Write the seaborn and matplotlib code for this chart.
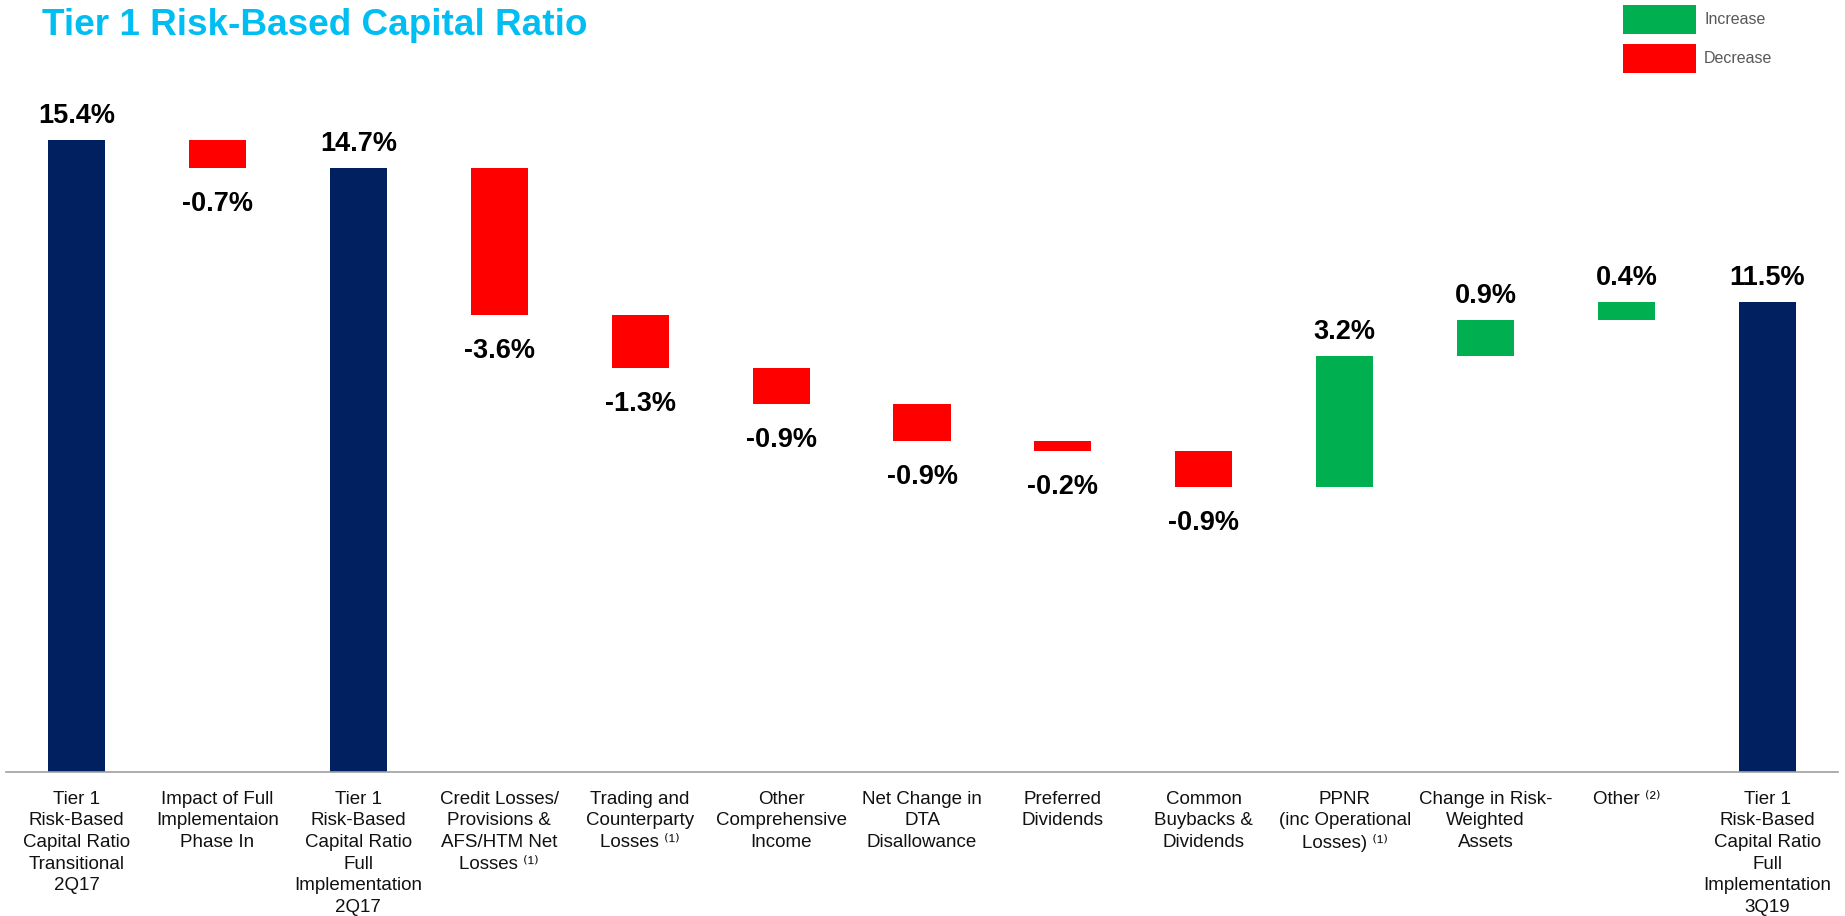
import matplotlib
matplotlib.use("Agg")
import matplotlib.pyplot as plt
import seaborn as sns
import numpy as np
import pandas as pd
from matplotlib.patches import Rectangle

# ---------------- data ----------------
categories = [
    "Tier 1\nRisk-Based\nCapital Ratio\nTransitional\n2Q17",
    "Impact of Full\nImplementaion\nPhase In",
    "Tier 1\nRisk-Based\nCapital Ratio\nFull\nImplementation\n2Q17",
    "Credit Losses/\nProvisions &\nAFS/HTM Net\nLosses \u207d\u00b9\u207e",
    "Trading and\nCounterparty\nLosses \u207d\u00b9\u207e",
    "Other\nComprehensive\nIncome",
    "Net Change in\nDTA\nDisallowance",
    "Preferred\nDividends",
    "Common\nBuybacks &\nDividends",
    "PPNR\n(inc Operational\nLosses) \u207d\u00b9\u207e",
    "Change in Risk-\nWeighted\nAssets",
    "Other \u207d\u00b2\u207e",
    "Tier 1\nRisk-Based\nCapital Ratio\nFull\nImplementation\n3Q19",
]
kinds = ["total", "decrease", "total", "decrease", "decrease", "decrease",
         "decrease", "decrease", "decrease", "increase", "increase",
         "increase", "total"]
values = [15.4, -0.70, 14.7, -3.57, -1.28, -0.89, -0.90, -0.24, -0.89,
          3.20, 0.88, 0.44, 11.45]
value_labels = ["15.4%", "-0.7%", "14.7%", "-3.6%", "-1.3%", "-0.9%", "-0.9%",
                "-0.2%", "-0.9%", "3.2%", "0.9%", "0.4%", "11.5%"]
legend_labels = ["Increase", "Decrease"]
title = "Tier 1 Risk-Based Capital Ratio"

colors = {"total": "#002060", "decrease": "#FF0000", "increase": "#00B050"}
title_color = "#00BEF2"
axis_gray = "#A0A0A0"

# ---------------- waterfall geometry ----------------
bottoms, heights = [], []
running = 0.0
for v, k in zip(values, kinds):
    if k == "total":
        bottoms.append(0.0)
        heights.append(v)
        running = v
    else:
        bottoms.append(running + min(v, 0))
        heights.append(abs(v))
        running += v

df = pd.DataFrame({"category": categories, "height": heights,
                   "bottom": bottoms, "kind": kinds})

# ---------------- style ----------------
sns.set_style("white")
plt.rcParams["font.family"] = ["Liberation Sans", "DejaVu Sans"]

W, H = 1845, 916
fig = plt.figure(figsize=(W / 100, H / 100), dpi=100)
ax = fig.add_axes([6 / W, 1 - 772 / H, 1832 / W, 739 / H])

sns.barplot(data=df, x="category", y="height", bottom=df["bottom"].values,
            width=0.405, errorbar=None, color=colors["total"], linewidth=0,
            ax=ax)
for patch, k in zip(ax.patches, kinds):
    patch.set_facecolor(colors[k])
    patch.set_edgecolor("none")

ax.set_xlim(-0.5, len(categories) - 0.5)
ax.set_ylim(0, 18)
ax.set_yticks([])
ax.set_xlabel("")
ax.set_ylabel("")
for s in ["left", "top", "right"]:
    ax.spines[s].set_visible(False)
ax.spines["bottom"].set_color(axis_gray)
ax.spines["bottom"].set_linewidth(1.2)

ax.set_xticks(np.arange(-0.5, len(categories), 1.0), minor=True)
ax.tick_params(axis="x", which="major", length=0, pad=13.5, labelsize=13.5,
               labelcolor="#111111")
ax.tick_params(axis="x", which="minor", length=5, width=1.2, color=axis_gray)
for lbl in ax.get_xticklabels():
    lbl.set_linespacing(1.36)
    lbl.set_multialignment("center")

# value labels
for i, (b, h, k, lab) in enumerate(zip(bottoms, heights, kinds, value_labels)):
    if k == "decrease":
        ax.annotate(lab, (i, b), xytext=(0, -43 * 0.72), textcoords="offset points",
                    ha="center", va="baseline", fontsize=19.5, fontweight="bold",
                    color="black")
    else:
        ax.annotate(lab, (i, b + h), xytext=(0, 17 * 0.72), textcoords="offset points",
                    ha="center", va="baseline", fontsize=19.5, fontweight="bold",
                    color="black")

# title
fig.text(42 / W, 1 - 35 / H, title, fontsize=26.6, fontweight="bold",
         color=title_color, ha="left", va="baseline")

# legend
legend_colors = [colors["increase"], colors["decrease"]]
for j, (lab, c) in enumerate(zip(legend_labels, legend_colors)):
    top = 5 + j * 39
    fig.patches.append(Rectangle((1623 / W, 1 - (top + 29) / H), 73 / W, 29 / H,
                                 transform=fig.transFigure, facecolor=c,
                                 edgecolor="none"))
    fig.text(1704 / W, 1 - (top + 14.5) / H, lab, fontsize=11.5, color="#595959",
             ha="left", va="center")

fig.savefig("out.png", dpi=100)
